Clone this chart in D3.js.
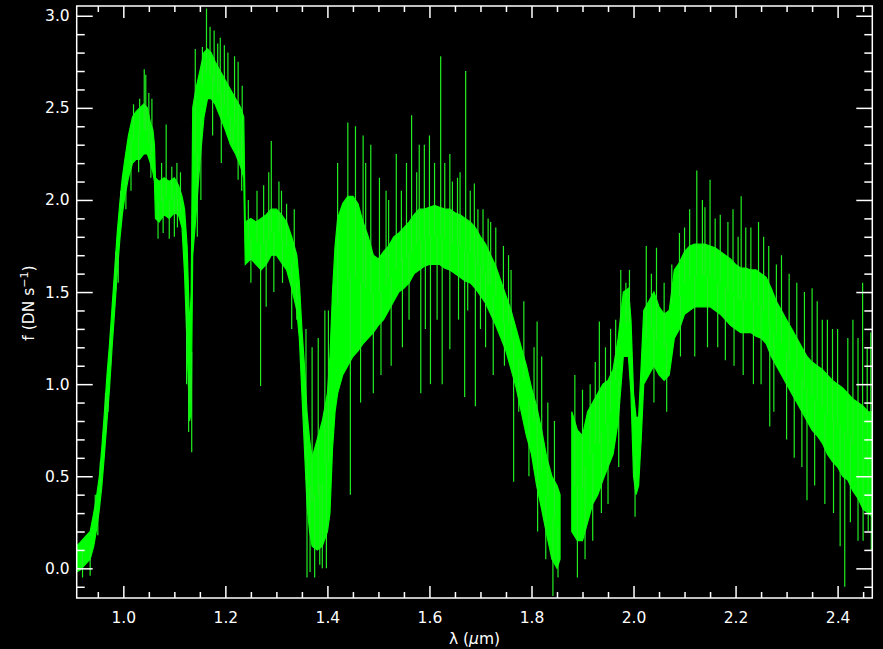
<!DOCTYPE html>
<html><head><meta charset="utf-8">
<script src="https://cdn.jsdelivr.net/npm/d3@7"></script>
<style>
html,body{margin:0;padding:0;background:#000;}
svg{display:block;}
text{font-family:"DejaVu Sans",sans-serif;fill:#fff;}
</style></head>
<body>
<svg id="c" width="883" height="649"></svg>
<script>
// wavelength (micron) of band samples; null marks the gap in the data
const wavelength = [0.908,0.915,0.925,0.935,0.942,0.948,0.953,0.958,0.963,0.968,0.973,0.978,0.983,0.988,0.993,0.998,1.003,1.010,1.018,1.025,1.032,1.040,1.047,1.053,1.058,1.061,1.063,1.070,1.080,1.090,1.100,1.108,1.115,1.120,1.125,1.130,1.133,1.136,1.142,1.150,1.158,1.165,1.172,1.180,1.190,1.200,1.210,1.220,1.230,1.236,1.239,1.250,1.260,1.270,1.280,1.290,1.300,1.310,1.320,1.330,1.340,1.345,1.350,1.355,1.360,1.365,1.370,1.380,1.390,1.400,1.405,1.410,1.415,1.420,1.430,1.440,1.450,1.460,1.470,1.480,1.490,1.500,1.510,1.520,1.530,1.540,1.550,1.560,1.570,1.580,1.590,1.600,1.610,1.620,1.630,1.640,1.650,1.660,1.670,1.680,1.690,1.700,1.710,1.720,1.730,1.740,1.750,1.760,1.770,1.780,1.790,1.800,1.810,1.820,1.830,1.840,1.850,1.856,1.867,1.879,1.890,1.900,1.910,1.920,1.930,1.940,1.950,1.960,1.970,1.980,1.990,1.995,2.000,2.005,2.010,2.015,2.020,2.030,2.040,2.050,2.060,2.070,2.080,2.090,2.100,2.110,2.120,2.130,2.140,2.150,2.160,2.170,2.180,2.190,2.200,2.210,2.220,2.230,2.240,2.250,2.260,2.270,2.280,2.290,2.300,2.310,2.320,2.330,2.340,2.350,2.360,2.370,2.380,2.390,2.400,2.410,2.420,2.430,2.440,2.450,2.460,2.468];
// lower edge of the noisy flux band (DN/s)
const fluxLow = [-0.02,-0.01,0.02,0.05,0.12,0.22,0.32,0.45,0.62,0.80,0.98,1.20,1.40,1.60,1.78,1.92,2.02,2.12,2.20,2.22,2.22,2.25,2.25,2.20,2.15,2.10,1.90,1.88,1.92,1.90,1.93,1.92,1.85,1.60,1.20,0.80,0.85,1.70,1.90,2.20,2.45,2.55,2.55,2.52,2.45,2.38,2.30,2.25,2.18,2.12,1.65,1.68,1.65,1.62,1.65,1.70,1.70,1.66,1.62,1.52,1.40,1.25,0.95,0.65,0.35,0.20,0.12,0.10,0.12,0.20,0.30,0.65,0.85,0.95,1.05,1.10,1.15,1.18,1.22,1.25,1.28,1.32,1.35,1.40,1.45,1.50,1.52,1.55,1.60,1.62,1.64,1.65,1.65,1.65,1.63,1.62,1.60,1.58,1.56,1.55,1.52,1.48,1.44,1.38,1.32,1.25,1.18,1.08,0.98,0.85,0.72,0.62,0.45,0.32,0.18,0.05,0.00,0.05,null,0.20,0.15,0.15,0.25,0.35,0.40,0.48,0.55,0.62,0.80,1.15,1.15,0.95,0.50,0.40,0.45,0.70,1.00,1.05,1.10,1.05,1.02,1.05,1.25,1.30,1.38,1.40,1.42,1.42,1.42,1.42,1.40,1.38,1.35,1.32,1.30,1.28,1.28,1.28,1.26,1.25,1.22,1.15,1.10,1.05,1.00,0.95,0.90,0.85,0.80,0.75,0.72,0.68,0.62,0.58,0.55,0.50,0.48,0.42,0.38,0.32,0.30,0.28];
// upper edge of the noisy flux band (DN/s)
const fluxHigh = [0.12,0.14,0.17,0.20,0.30,0.40,0.50,0.66,0.85,1.05,1.22,1.42,1.62,1.82,1.98,2.12,2.22,2.35,2.45,2.48,2.50,2.52,2.50,2.42,2.38,2.30,2.12,2.10,2.12,2.10,2.12,2.08,2.02,1.95,1.75,1.30,1.50,2.50,2.60,2.70,2.80,2.82,2.80,2.75,2.70,2.65,2.60,2.55,2.50,2.45,1.88,1.90,1.88,1.90,1.92,1.95,1.95,1.92,1.88,1.80,1.70,1.55,1.30,1.10,0.85,0.70,0.60,0.70,0.80,0.95,1.15,1.50,1.75,1.90,1.98,2.02,2.02,1.98,1.88,1.80,1.70,1.68,1.72,1.75,1.80,1.82,1.85,1.88,1.92,1.95,1.95,1.96,1.97,1.96,1.95,1.95,1.93,1.92,1.90,1.88,1.85,1.80,1.76,1.70,1.64,1.56,1.48,1.40,1.30,1.20,1.10,0.98,0.88,0.75,0.60,0.50,0.45,0.40,null,0.85,0.75,0.72,0.85,0.90,0.95,1.00,1.02,1.08,1.25,1.50,1.52,1.35,0.95,0.82,0.82,1.10,1.40,1.45,1.50,1.42,1.38,1.40,1.62,1.66,1.72,1.75,1.76,1.76,1.76,1.75,1.74,1.72,1.70,1.68,1.65,1.63,1.63,1.62,1.62,1.60,1.58,1.52,1.45,1.40,1.35,1.30,1.25,1.20,1.15,1.12,1.10,1.08,1.05,1.02,1.00,0.98,0.95,0.92,0.90,0.88,0.85,0.85];
// noise spikes: wavelength and extreme flux
const spikeWavelength = [0.920,0.935,1.020,1.032,1.041,1.044,1.084,1.141,1.155,1.163,1.170,1.178,1.185,1.198,1.218,1.275,1.290,1.305,1.420,1.440,1.455,1.470,1.502,1.515,1.565,1.580,1.600,1.622,1.640,1.655,1.671,1.688,1.720,1.745,1.760,1.811,1.900,1.933,1.985,2.025,2.045,2.090,2.124,2.140,2.150,2.170,2.211,2.230,2.245,2.280,2.320,2.350,2.380,2.400,2.449,2.465,
  1.068,1.090,1.100,1.128,1.134,1.210,1.225,1.269,1.280,1.330,1.360,1.375,1.390,1.445,1.465,1.490,1.583,1.602,1.625,1.640,1.669,1.690,1.765,1.842,2.003,2.180,2.267,2.340,2.405,2.414,2.450,2.460,
  0.945,0.955,0.965,0.975,0.985,0.995,0.950,0.970,0.990,1.005,1.015,1.030,1.050,1.056,1.054,1.075,1.095,1.105,1.112,1.078,1.106,1.124,1.131,1.145,1.152,
  1.190,1.205,1.225,1.233,1.175,1.192,1.215,1.232,1.245,1.262,1.285,1.310,1.320,1.335,1.250,1.295,1.312,1.340,
  1.358,1.370,1.382,1.395,1.402,1.366,1.385,1.398,1.475,1.485,1.520,1.535,1.545,1.555,1.505,1.525,1.547,1.560,
  1.575,1.590,1.610,1.630,1.645,1.660,1.680,1.695,1.592,1.615,1.657,1.675,1.700,
  1.705,1.715,1.730,1.755,1.785,1.805,1.820,1.832,1.845,1.710,1.725,1.747,1.775,1.795,1.812,1.828,1.852,
  1.885,1.915,1.925,1.945,1.955,1.965,1.975,1.992,1.890,1.905,1.920,1.937,1.950,1.971,
  2.035,2.060,2.075,2.100,2.110,2.135,2.160,2.185,2.195,2.040,2.065,2.092,2.120,2.145,2.165,2.197,
  2.205,2.220,2.255,2.265,2.290,2.305,2.335,2.360,2.370,2.390,2.420,2.430,2.440,2.458,
  2.215,2.235,2.250,2.275,2.300,2.315,2.330,2.355,2.375,2.392,2.425,2.440,2.466];
const spikeFlux = [-0.05,-0.04,2.52,2.55,2.71,2.68,2.41,2.82,2.83,3.04,2.94,2.92,2.85,2.84,2.78,2.08,2.32,2.10,2.20,2.42,2.40,2.35,2.12,2.05,2.46,2.30,2.35,2.78,2.25,2.12,2.70,2.09,1.88,1.75,1.62,1.34,0.97,1.34,1.55,1.75,1.74,1.82,2.16,1.96,2.11,1.92,2.02,1.85,1.88,1.65,1.55,1.52,1.35,1.30,1.55,1.28,
  1.79,1.79,1.80,0.74,0.63,2.32,2.11,0.99,1.42,1.30,-0.05,-0.05,0.00,0.40,0.90,0.95,0.95,1.00,1.00,1.19,0.93,0.88,0.47,-0.15,0.28,1.13,0.77,0.37,0.12,-0.10,0.15,0.20,
  0.40,0.58,0.95,1.30,1.72,2.05,0.18,0.85,1.55,1.95,2.05,2.15,2.58,2.55,2.12,2.20,2.18,2.20,2.15,1.82,1.85,1.00,0.90,1.80,2.00,
  2.88,2.80,2.75,2.62,2.35,2.20,2.30,2.05,2.00,2.05,2.15,2.05,1.98,1.95,1.55,1.50,1.55,1.35,
  1.30,1.20,1.25,1.40,1.40,-0.02,0.02,0.00,2.20,2.30,2.00,2.25,2.05,2.20,1.05,1.10,1.20,1.35,
  2.15,2.30,2.20,2.20,2.10,2.15,2.05,1.95,1.30,1.35,1.35,1.40,1.30,
  1.95,1.90,1.85,1.70,1.45,1.20,1.15,0.90,0.80,1.20,1.05,1.10,0.85,0.50,0.20,0.05,-0.05,
  1.05,1.00,1.12,1.20,1.30,1.35,1.62,1.62,-0.05,0.05,0.15,0.30,0.35,0.55,
  1.60,1.55,1.65,1.85,1.95,2.00,1.90,1.88,1.95,0.90,0.85,1.15,1.15,1.20,1.20,1.10,
  1.80,1.85,1.80,1.75,1.70,1.60,1.50,1.45,1.35,1.30,1.25,1.35,1.25,1.20,
  1.05,1.00,1.00,0.85,0.70,0.60,0.55,0.45,0.35,0.30,0.25,0.15,0.10];
const xMajorTicks = [1.0,1.2,1.4,1.6,1.8,2.0,2.2,2.4];
const yMajorTicks = [0.0,0.5,1.0,1.5,2.0,2.5,3.0];

const svg = d3.select("#c");
const L=76.7, R=872.3, T=6, B=598;
const x = d3.scaleLinear().domain([0.9086,2.468]).range([L,R]);
const y = d3.scaleLinear().domain([-0.161,3.053]).range([B,T]);

svg.append("rect").attr("width",883).attr("height",649).attr("fill","#000");
svg.append("clipPath").attr("id","clip").append("rect")
  .attr("x",L).attr("y",T).attr("width",R-L).attr("height",B-T);

const band = wavelength.map((w,i)=>({w,lo:fluxLow[i],hi:fluxHigh[i]}));
const g = svg.append("g").attr("clip-path","url(#clip)");
const area = d3.area().defined(d=>d.lo!=null)
  .x(d=>x(d.w)).y0(d=>y(d.lo)).y1(d=>y(d.hi));
g.append("path").datum(band).attr("d",area)
  .attr("fill","#00ff00").attr("stroke","#00ff00").attr("stroke-width",1.2);

// spikes drawn from the nearest band sample centre
const bis = d3.bisector(d=>d.w).center;
const valid = band.filter(d=>d.lo!=null);
spikeWavelength.forEach((w,i)=>{
  const b = valid[bis(valid,w)];
  const mid = (b.lo+b.hi)/2;
  g.append("line").attr("x1",x(w)).attr("x2",x(w))
   .attr("y1",y(mid)).attr("y2",y(spikeFlux[i]))
   .attr("stroke","#22ee22").attr("stroke-width",1.2);
});

// axes
const range = (a,b,s)=>d3.range(Math.round((b-a)/s)+1).map(i=>+(a+i*s).toFixed(3));
const xMinor = range(0.95,2.45,0.05).filter(v=>!xMajorTicks.some(m=>Math.abs(m-v)<1e-6));
const yMinor = range(-0.1,3.0,0.1).filter(v=>!yMajorTicks.some(m=>Math.abs(m-v)<1e-6));
const fmt = d3.format(".1f");
function style(sel){ sel.select(".domain").remove(); sel.selectAll("line").attr("stroke","#fff").attr("stroke-width",1.5);
  sel.selectAll("text").attr("fill","#fff").style("font-size","15.5px").style("font-family","DejaVu Sans, sans-serif"); }
svg.append("g").attr("transform",`translate(0,${B})`).call(d3.axisBottom(x).tickValues(xMajorTicks).tickSize(-12).tickPadding(14).tickFormat(fmt)).call(style);
svg.append("g").attr("transform",`translate(0,${B})`).call(d3.axisBottom(x).tickValues(xMinor).tickSize(-6).tickFormat("")).call(style);
svg.append("g").attr("transform",`translate(0,${T})`).call(d3.axisTop(x).tickValues(xMajorTicks).tickSize(-12).tickFormat("")).call(style);
svg.append("g").attr("transform",`translate(0,${T})`).call(d3.axisTop(x).tickValues(xMinor).tickSize(-6).tickFormat("")).call(style);
svg.append("g").attr("transform",`translate(${L},0)`).call(d3.axisLeft(y).tickValues(yMajorTicks).tickSize(-16).tickPadding(7).tickFormat(fmt)).call(style);
svg.append("g").attr("transform",`translate(${L},0)`).call(d3.axisLeft(y).tickValues(yMinor).tickSize(-8).tickFormat("")).call(style);
svg.append("g").attr("transform",`translate(${R},0)`).call(d3.axisRight(y).tickValues(yMajorTicks).tickSize(-16).tickFormat("")).call(style);
svg.append("g").attr("transform",`translate(${R},0)`).call(d3.axisRight(y).tickValues(yMinor).tickSize(-8).tickFormat("")).call(style);
svg.append("rect").attr("x",L).attr("y",T).attr("width",R-L).attr("height",B-T)
  .attr("fill","none").attr("stroke","#fff").attr("stroke-width",1.5);

// axis titles
const xt = svg.append("text").attr("x",(L+R)/2).attr("y",644).attr("text-anchor","middle").style("font-size","15.5px");
xt.append("tspan").text("λ (");
xt.append("tspan").style("font-style","italic").text("μ");
xt.append("tspan").text("m)");
const yt = svg.append("text").attr("transform","translate(34,303) rotate(-90)").attr("text-anchor","middle").style("font-size","15.5px");
yt.append("tspan").text("f (DN s");
yt.append("tspan").attr("dy",-6).style("font-size","11px").text("−1");
yt.append("tspan").attr("dy",6).text(")");
</script>
</body></html>
